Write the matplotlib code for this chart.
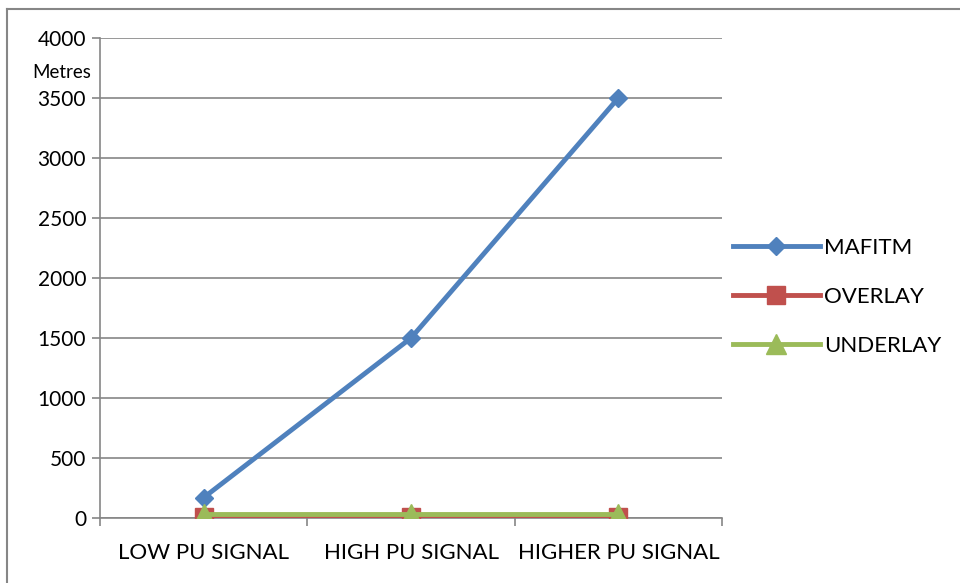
import matplotlib.pyplot as plt
from matplotlib.lines import Line2D

# Distance reached for each primary-user signal level
categories = ['LOW PU SIGNAL', 'HIGH PU SIGNAL', 'HIGHER PU SIGNAL']
mafitm = [170, 1500, 3500]
overlay = [5, 5, 5]
underlay = [30, 30, 30]

plt.rcParams['font.family'] = ['Lato', 'DejaVu Sans']

fig = plt.figure(figsize=(9.6, 5.83), dpi=100)
ax = fig.add_axes([100 / 960, 1 - 518 / 583, 622 / 960, 480 / 583])

x = [i + 0.5 for i in range(len(categories))]
ax.plot(x, mafitm, color='#4F81BD', lw=3.5, marker='D', ms=9.5, label='MAFITM', zorder=3)
ax.plot(x, overlay, color='#C0504D', lw=3.5, marker='s', ms=13, label='OVERLAY', zorder=4)
ax.plot(x, underlay, color='#9BBB59', lw=3.5, marker='^', ms=15, label='UNDERLAY', zorder=5)

ax.set_xlim(0, 3)
ax.set_ylim(0, 4000)
ax.set_yticks(range(0, 4001, 500))
ax.set_xticks([0, 1, 2, 3])
ax.set_xticklabels([])
ax.set_xticks(x, minor=True)
ax.set_xticklabels(categories, minor=True)

ax.grid(axis='y', color='#868686', lw=1.2, zorder=0)
ax.set_axisbelow(True)
for side in ['top', 'right']:
    ax.spines[side].set_visible(False)
for side in ['left', 'bottom']:
    ax.spines[side].set_color('#868686')
    ax.spines[side].set_linewidth(1.2)

ax.tick_params(axis='y', which='major', length=6, width=1.2, color='#868686',
               labelsize=15, pad=4)
ax.tick_params(axis='x', which='major', length=6, width=1.2, color='#868686')
ax.tick_params(axis='x', which='minor', length=0, labelsize=16, pad=18)

fig.text(32 / 960, 1 - 73 / 583, 'Metres', fontsize=13.5, va='center', ha='left')

fig.legend(loc='center left', bbox_to_anchor=(733 / 960, 1 - 297 / 583),
           frameon=False, fontsize=16, handlelength=3.9, handletextpad=0.2,
           labelspacing=1.3, borderpad=0, borderaxespad=0)

# outer chart frame, cut off at the right and bottom
fig.add_artist(Line2D([6.5 / 960, 6.5 / 960], [0, 1 - 8.5 / 583],
                      transform=fig.transFigure, color='#868686', lw=1.5))
fig.add_artist(Line2D([6.5 / 960, 1], [1 - 8.5 / 583, 1 - 8.5 / 583],
                      transform=fig.transFigure, color='#868686', lw=1.5))

fig.savefig('out.png', dpi=100)
